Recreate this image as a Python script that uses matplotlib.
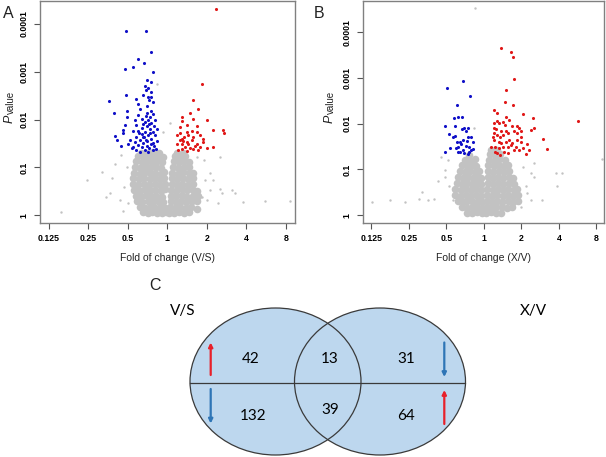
import matplotlib
matplotlib.use('Agg')
import matplotlib.pyplot as plt
from matplotlib.patches import Ellipse

# volcano data, points given as (log2 fold change, -log10 P)
blue_a = [(-1.05, 3.86), (-0.55, 3.86), (-0.42, 3.41), (-0.74, 3.26), (-0.59, 3.19),
          (-0.86, 3.11), (-1.07, 3.06), (-0.35, 2.99), (-0.52, 2.83), (-0.42, 2.78),
          (-0.57, 2.71), (-0.48, 2.67), (-0.54, 2.61), (-0.42, 2.58), (-1.05, 2.51),
          (-0.61, 2.51), (-0.40, 2.47), (-0.78, 2.44), (-0.46, 2.40), (-1.47, 2.38),
          (-0.35, 2.37), (-0.73, 2.32), (-0.52, 2.28), (-0.68, 2.23), (-0.40, 2.19),
          (-1.03, 2.17), (-1.35, 2.14), (-0.52, 2.14), (-0.35, 2.11), (-0.73, 2.09),
          (-0.44, 2.06), (-1.03, 2.06), (-0.65, 2.02), (-0.48, 2.00), (-0.31, 1.99),
          (-0.57, 1.95), (-0.40, 1.93), (-1.07, 1.88), (-0.78, 1.88), (-0.52, 1.86),
          (-0.34, 1.86), (-0.65, 1.83), (-0.44, 1.81), (-0.27, 1.81), (-1.13, 1.79),
          (-0.88, 1.76), (-0.73, 1.76), (-0.57, 1.74), (-0.37, 1.74), (-1.32, 1.65),
          (-0.65, 1.69), (-0.48, 1.67), (-0.31, 1.67), (-1.13, 1.71), (-0.78, 1.64),
          (-0.59, 1.63), (-0.40, 1.60), (-0.95, 1.58), (-0.69, 1.57), (-0.51, 1.56),
          (-1.28, 1.57), (-0.27, 1.56), (-0.82, 1.53), (-0.61, 1.51), (-0.42, 1.50),
          (-0.99, 1.50), (-1.16, 1.45), (-0.73, 1.47), (-0.52, 1.44), (-0.34, 1.44),
          (-0.86, 1.43), (-0.65, 1.42), (-0.46, 1.40), (-0.78, 1.36), (-0.57, 1.36),
          (-0.37, 1.36), (-0.90, 1.40), (-0.69, 1.33), (-0.48, 1.33), (-0.29, 1.38),
          (-0.54, 2.07), (-0.62, 1.90), (-0.46, 1.90), (-0.71, 1.71), (-0.54, 1.58),
          (-0.35, 1.51), (-0.62, 1.64), (-0.44, 1.72), (-0.82, 1.99), (-0.50, 2.47)]

red_a = [(1.22, 4.31), (0.89, 2.74), (0.66, 2.40), (0.78, 2.23), (0.57, 2.13),
         (0.36, 2.06), (0.66, 2.02), (1.00, 1.99), (0.36, 1.97), (0.49, 1.88),
         (0.74, 1.86), (1.16, 1.78), (0.32, 1.85), (0.62, 1.76), (1.40, 1.78),
         (1.43, 1.72), (0.49, 1.74), (0.32, 1.71), (0.41, 1.64), (0.53, 1.67),
         (0.66, 1.64), (0.83, 1.67), (0.91, 1.60), (0.32, 1.57), (0.24, 1.50),
         (0.36, 1.50), (0.49, 1.53), (0.62, 1.57), (0.74, 1.50), (0.83, 1.43),
         (1.00, 1.40), (0.45, 1.43), (0.57, 1.40), (0.70, 1.44), (0.36, 1.38),
         (0.78, 1.36), (1.15, 1.43), (0.24, 1.67), (0.74, 1.74), (0.91, 1.53),
         (0.53, 1.50), (0.39, 1.56), (0.28, 1.36), (0.49, 1.35), (0.64, 1.38),
         (0.36, 1.60)]

grey_a = [(-0.62, 0.06), (-0.50, 0.04), (-0.38, 0.07), (-0.26, 0.05), (-0.14, 0.04),
          (-0.04, 0.06), (0.05, 0.05), (0.17, 0.04), (0.30, 0.07), (0.42, 0.05), (0.55, 0.06),
          (-0.70, 0.17), (-0.57, 0.15), (-0.44, 0.18), (-0.31, 0.16), (-0.18, 0.17),
          (-0.06, 0.15), (0.07, 0.17), (0.20, 0.16), (0.33, 0.18), (0.47, 0.15), (0.61, 0.17),
          (0.75, 0.14), (-0.76, 0.29), (-0.63, 0.27), (-0.50, 0.30), (-0.37, 0.28),
          (-0.24, 0.29), (-0.11, 0.27), (0.09, 0.29), (0.22, 0.28), (0.35, 0.30), (0.48, 0.27),
          (0.62, 0.29), (0.76, 0.30), (-0.80, 0.41), (-0.67, 0.39), (-0.54, 0.42),
          (-0.41, 0.40), (-0.28, 0.41), (-0.14, 0.39), (0.09, 0.41), (0.22, 0.40), (0.36, 0.42),
          (0.50, 0.39), (0.64, 0.41), (0.77, 0.40), (-0.84, 0.53), (-0.70, 0.51),
          (-0.57, 0.54), (-0.44, 0.52), (-0.30, 0.53), (-0.16, 0.51), (-0.06, 0.55),
          (0.10, 0.53), (0.23, 0.51), (0.37, 0.54), (0.51, 0.52), (0.65, 0.53), (0.76, 0.50),
          (-0.87, 0.65), (-0.73, 0.63), (-0.60, 0.66), (-0.46, 0.64), (-0.32, 0.65),
          (-0.18, 0.63), (-0.07, 0.66), (0.11, 0.65), (0.24, 0.63), (0.38, 0.66), (0.52, 0.64),
          (0.66, 0.65), (-0.86, 0.77), (-0.72, 0.75), (-0.58, 0.78), (-0.45, 0.76),
          (-0.31, 0.77), (-0.18, 0.75), (-0.08, 0.78), (0.12, 0.77), (0.25, 0.75), (0.39, 0.78),
          (0.53, 0.76), (0.66, 0.77), (-0.84, 0.89), (-0.70, 0.87), (-0.56, 0.90),
          (-0.43, 0.88), (-0.30, 0.89), (-0.17, 0.87), (-0.09, 0.90), (0.13, 0.89), (0.26, 0.87),
          (0.40, 0.90), (0.54, 0.88), (0.65, 0.89), (-0.82, 1.01), (-0.68, 0.99),
          (-0.54, 1.02), (-0.41, 1.00), (-0.28, 1.01), (-0.16, 0.99), (0.14, 1.01),
          (0.27, 0.99), (0.41, 1.02), (0.55, 1.00), (-0.79, 1.13), (-0.65, 1.11),
          (-0.51, 1.14), (-0.38, 1.12), (-0.25, 1.13), (-0.13, 1.11), (0.16, 1.13),
          (0.29, 1.11), (0.43, 1.14), (0.55, 1.12), (-0.74, 1.24), (-0.60, 1.22),
          (-0.47, 1.25), (-0.34, 1.23), (-0.21, 1.24), (-0.12, 1.22), (0.19, 1.24),
          (0.32, 1.22), (0.45, 1.25), (-0.66, 1.31), (-0.50, 1.30), (-0.36, 1.32),
          (-0.22, 1.30), (0.24, 1.31), (0.40, 1.30)]

grey_a_out = [(-2.69, 0.07), (-2.04, 0.74), (-1.66, 0.90), (-1.45, 0.46), (-1.54, 0.38),
              (-1.32, 1.08), (-1.41, 0.78), (-1.11, 0.08), (-1.16, 1.26), (-1.03, 1.01),
              (-1.10, 0.60), (-0.99, 0.25), (1.33, 0.56), (1.38, 0.46), (1.63, 0.53),
              (1.71, 0.47), (1.92, 0.28), (2.46, 0.30), (3.11, 0.30), (1.08, 0.88),
              (1.16, 0.74), (0.89, 0.39), (1.00, 0.32), (1.29, 0.25), (1.33, 1.22),
              (0.93, 1.15), (0.74, 1.22), (-0.27, 2.75), (0.07, 1.92), (-0.12, 1.74),
              (-0.90, 0.88), (0.95, 0.74), (1.08, 0.53), (-1.20, 0.32)]

blue_b = [(-0.99, 2.77), (-0.57, 2.94), (-0.37, 2.61), (-0.73, 2.41), (-0.81, 2.12),
          (-0.70, 2.14), (-0.59, 2.14), (-1.05, 1.94), (-0.77, 1.94), (-0.58, 1.89),
          (-0.52, 1.91), (-0.42, 1.91), (-0.92, 1.77), (-0.77, 1.73), (-0.48, 1.83),
          (-0.43, 1.72), (-0.35, 1.70), (-0.83, 1.72), (-0.90, 1.48), (-0.74, 1.46),
          (-0.70, 1.50), (-0.61, 1.55), (-0.57, 1.43), (-0.48, 1.52), (-0.39, 1.50),
          (-0.30, 1.61), (-1.05, 1.39), (-0.70, 1.39), (-0.63, 1.38), (-0.52, 1.35),
          (-0.43, 1.34), (-0.39, 1.39), (-0.35, 1.43), (-0.30, 1.44), (-0.57, 1.64),
          (-0.65, 1.61), (-0.46, 1.62), (-0.72, 1.61)]

red_b = [(0.45, 3.66), (0.72, 3.56), (0.78, 3.45), (0.81, 2.97), (0.60, 2.74),
         (0.56, 2.47), (0.77, 2.41), (0.27, 2.30), (0.36, 2.23), (1.05, 2.21),
         (1.32, 2.13), (0.59, 2.15), (0.67, 2.08), (0.36, 2.07), (0.41, 2.01),
         (0.50, 2.03), (0.56, 1.97), (0.76, 1.94), (0.89, 1.94), (0.94, 1.90),
         (0.98, 1.85), (1.25, 1.86), (0.26, 1.91), (0.32, 1.88), (0.45, 1.83),
         (0.63, 1.79), (0.81, 1.83), (0.88, 1.79), (0.98, 1.72), (0.35, 1.75),
         (0.43, 1.72), (0.52, 1.75), (0.27, 1.64), (0.41, 1.61), (0.58, 1.61),
         (0.67, 1.64), (0.76, 1.57), (0.98, 1.61), (1.58, 1.67), (0.30, 1.50),
         (0.39, 1.46), (0.50, 1.50), (0.72, 1.54), (0.85, 1.50), (0.94, 1.43),
         (1.16, 1.56), (1.20, 1.43), (0.30, 1.39), (0.36, 1.35), (0.43, 1.32),
         (0.54, 1.39), (0.63, 1.37), (0.81, 1.43), (1.12, 1.34), (1.67, 1.44),
         (2.51, 2.05), (0.27, 1.79), (0.45, 1.57), (0.63, 1.50), (0.19, 1.50),
         (0.23, 1.72), (0.27, 2.01), (0.58, 1.83), (0.89, 1.64), (1.03, 1.46),
         (1.34, 1.90)]

grey_b = [(-0.45, 0.06), (-0.32, 0.04), (-0.19, 0.07), (-0.06, 0.05), (0.06, 0.05),
          (0.19, 0.07), (0.32, 0.04), (0.45, 0.06), (-0.58, 0.18), (-0.45, 0.16),
          (-0.32, 0.19), (-0.19, 0.17), (-0.06, 0.16), (0.07, 0.18), (0.20, 0.16),
          (0.33, 0.19), (0.47, 0.17), (0.61, 0.16), (0.75, 0.18), (-0.70, 0.31),
          (-0.57, 0.29), (-0.44, 0.32), (-0.30, 0.30), (-0.17, 0.31), (-0.06, 0.29),
          (0.08, 0.31), (0.21, 0.29), (0.35, 0.32), (0.49, 0.30), (0.63, 0.31), (0.77, 0.29),
          (0.90, 0.32), (-0.76, 0.44), (-0.62, 0.42), (-0.48, 0.45), (-0.34, 0.43),
          (-0.20, 0.44), (-0.08, 0.42), (0.08, 0.44), (0.22, 0.42), (0.36, 0.45), (0.50, 0.43),
          (0.64, 0.44), (0.78, 0.42), (0.90, 0.45), (-0.76, 0.57), (-0.62, 0.55),
          (-0.48, 0.58), (-0.34, 0.56), (-0.21, 0.57), (-0.09, 0.55), (0.09, 0.57),
          (0.23, 0.55), (0.37, 0.58), (0.51, 0.56), (0.65, 0.57), (0.79, 0.55), (0.88, 0.58),
          (-0.72, 0.70), (-0.58, 0.68), (-0.45, 0.71), (-0.32, 0.69), (-0.19, 0.70),
          (-0.09, 0.68), (0.10, 0.70), (0.24, 0.68), (0.38, 0.71), (0.52, 0.69), (0.66, 0.70),
          (0.80, 0.68), (-0.68, 0.83), (-0.55, 0.81), (-0.42, 0.84), (-0.29, 0.82),
          (-0.17, 0.83), (-0.09, 0.81), (0.10, 0.83), (0.24, 0.81), (0.38, 0.84), (0.52, 0.82),
          (0.66, 0.83), (0.78, 0.81), (-0.64, 0.96), (-0.51, 0.94), (-0.38, 0.97),
          (-0.25, 0.95), (-0.13, 0.96), (0.11, 0.96), (0.25, 0.94), (0.39, 0.97), (0.53, 0.95),
          (0.66, 0.96), (-0.58, 1.09), (-0.45, 1.07), (-0.32, 1.10), (-0.20, 1.08),
          (0.12, 1.09), (0.26, 1.07), (0.40, 1.10), (0.54, 1.08), (0.65, 1.09),
          (-0.50, 1.21), (-0.37, 1.19), (-0.24, 1.22), (0.13, 1.21), (0.27, 1.19),
          (0.41, 1.22), (0.55, 1.20), (-0.40, 1.31), (0.15, 1.33), (0.29, 1.31),
          (0.43, 1.34), (0.20, 1.42), (0.35, 1.43)]

grey_b_out = [(-2.97, 0.29), (-2.51, 0.33), (-2.09, 0.28), (-1.72, 0.36), (-1.65, 0.50),
              (-1.50, 0.33), (-1.32, 0.36), (-1.23, 0.74), (-1.05, 0.99), (-1.14, 1.28),
              (-0.96, 1.21), (-0.92, 0.63), (1.34, 1.14), (1.34, 0.84), (1.56, 0.33),
              (1.91, 0.92), (2.09, 0.92), (1.96, 0.63), (3.15, 1.24), (1.16, 0.48),
              (1.25, 0.33), (0.98, 0.19), (-0.24, 4.52), (-0.26, 1.90), (-1.05, 0.84),
              (-0.83, 0.33), (1.12, 0.63), (1.25, 0.92), (1.03, 1.06)]

fold_ticks = [-3, -2, -1, 0, 1, 2, 3]
fold_labels = ['0.125', '0.25', '0.5', '1', '2', '4', '8']
p_ticks = [0, 1, 2, 3, 4]
p_labels = ['1', '0.1', '0.01', '0.001', '0.0001']

venn_sets = ['V/S', 'X/V']
venn_counts = [42, 13, 31, 132, 39, 64]   # top row, then bottom row

fig = plt.figure(figsize=(6.06, 4.57), dpi=100)
plt.rcParams['font.family'] = ['Liberation Sans', 'DejaVu Sans']


def volcano(ax, grey, grey_out, blue, red, xlabel, xlim, ylim):
    for pts, c, s in [(grey, '#c2c2c2', 30), (grey_out, '#c2c2c2', 3),
                      (blue, '#1010c8', 5), (red, '#e01818', 5)]:
        x, y = zip(*pts)
        ax.scatter(x, y, s=s, c=c, linewidths=0)
    ax.set_xlim(xlim)
    ax.set_ylim(ylim)
    ax.set_xticks(fold_ticks, fold_labels)
    ax.set_yticks(p_ticks, p_labels)
    ax.tick_params(labelsize=6.3, length=4, width=0.8, color='#555555', pad=4)
    for lab in ax.get_xticklabels() + ax.get_yticklabels():
        lab.set_fontweight('bold')
    for lab in ax.get_yticklabels():
        lab.set_rotation(90)
        lab.set_va('center')
    for sp in ax.spines.values():
        sp.set_color('#808080')
        sp.set_linewidth(1.0)
    ax.set_xlabel(xlabel, fontsize=7.5, labelpad=7, color='#222222')


ax_a = fig.add_axes([0.0660, 0.5114, 0.4208, 0.4875])
volcano(ax_a, grey_a, grey_a_out, blue_a, red_a, 'Fold of change (V/S)',
        (-3.22, 3.23), (-0.167, 4.49))
ax_b = fig.add_axes([0.5985, 0.5114, 0.3982, 0.4864])
volcano(ax_b, grey_b, grey_b_out, blue_b, red_b, 'Fold of change (X/V)',
        (-3.23, 3.20), (-0.175, 4.68))

# overlay in pixel units for panel letters, y labels and the Venn diagram
ov = fig.add_axes([0, 0, 1, 1])
ov.set_xlim(0, 606)
ov.set_ylim(457, 0)
ov.axis('off')

for lbl, x, y in [('A', 8, 13), ('B', 319, 13), ('C', 155, 286)]:
    ov.text(x, y, lbl, fontsize=11.5, ha='center', va='center', color='#222222')
for x in (10, 330):
    ov.text(x, 119, 'P', fontsize=9, style='italic', rotation=90,
            ha='center', va='center', color='#222222')
    ov.text(x + 1, 102, 'value', fontsize=7, rotation=90,
            ha='center', va='center', color='#222222')

# Venn diagram
cy = 381.5
for cx in (275.5, 380):
    ov.add_patch(Ellipse((cx, cy), 171, 147, facecolor='#bdd7ee', edgecolor='none'))
for cx in (275.5, 380):
    ov.add_patch(Ellipse((cx, cy), 171, 147, facecolor='none', edgecolor='#3a3a3a', lw=0.9))
ov.plot([190, 465], [382.5, 382.5], color='#3a3a3a', lw=0.9)

vfont = ['Lato', 'DejaVu Sans']
ov.text(183, 311, venn_sets[0], fontsize=11, family=vfont, ha='center', va='center')
ov.text(533, 311, venn_sets[1], fontsize=11, family=vfont, ha='center', va='center')
num_xy = [(251, 359), (330, 359), (406, 359), (253, 416), (330, 410), (406, 416)]
for n, (x, y) in zip(venn_counts, num_xy):
    ov.text(x, y, str(n), fontsize=11, family=vfont, ha='center', va='center')

up_red, down_blue = '#e8202a', '#2e75b6'
for x, y0, y1, c in [(210.7, 375, 342.5, up_red), (210.7, 389, 423.5, down_blue),
                     (444.3, 342.5, 377, down_blue), (444.3, 424, 390, up_red)]:
    ov.annotate('', xy=(x, y1), xytext=(x, y0),
                arrowprops=dict(arrowstyle='-|>', color=c, lw=1.6, mutation_scale=6,
                                shrinkA=0, shrinkB=0))

fig.savefig('out.png', dpi=100)
